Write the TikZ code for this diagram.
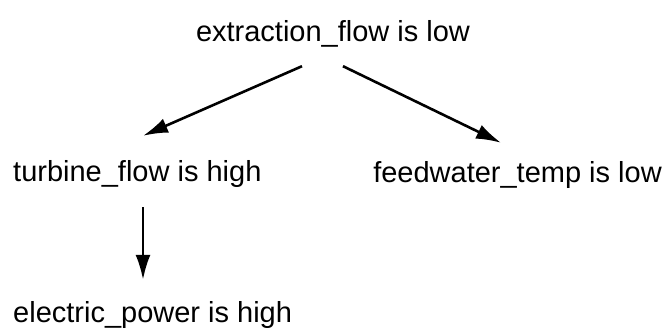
\documentclass[tikz,border=0pt]{standalone}
\usepackage{fontspec}
\setmainfont{Liberation Sans}
\usetikzlibrary{arrows.meta,positioning}

\tikzset{
  fact/.style={inner sep=0pt,text height=21pt,text depth=0pt,font=\fontsize{29}{34}\selectfont},
  link/.style={line width=2.6pt,-{Latex[length=25pt,width=15pt]}}
}

\begin{document}
\begin{tikzpicture}[x=1pt,y=-1pt]
        \useasboundingbox (0,0) rectangle (667,331);
        \node[fact,anchor=base] (efl) at (333,42) {extraction\_flow is low};
        \node[fact,anchor=base west] (tfh) at (13,182) {turbine\_flow is high};
        \node[fact,anchor=base east] (fwl) at (662,183) {feedwater\_temp is low};
        \node[fact,anchor=base west] (eph) at (13,323) {electric\_power is high};
        {
          \draw[link] ([xshift=-31pt,yshift=-24pt]efl.south) -- ([xshift=130pt,yshift=25pt]tfh.north west);
          \draw[link] ([xshift=10pt,yshift=-24pt]efl.south) -- ([xshift=128pt,yshift=19pt]fwl.north west);
          \draw[link] ([xshift=130pt,yshift=-25pt]tfh.south west) -- ([xshift=130pt,yshift=22pt]eph.north west);
        }
      \end{tikzpicture}
\end{document}
